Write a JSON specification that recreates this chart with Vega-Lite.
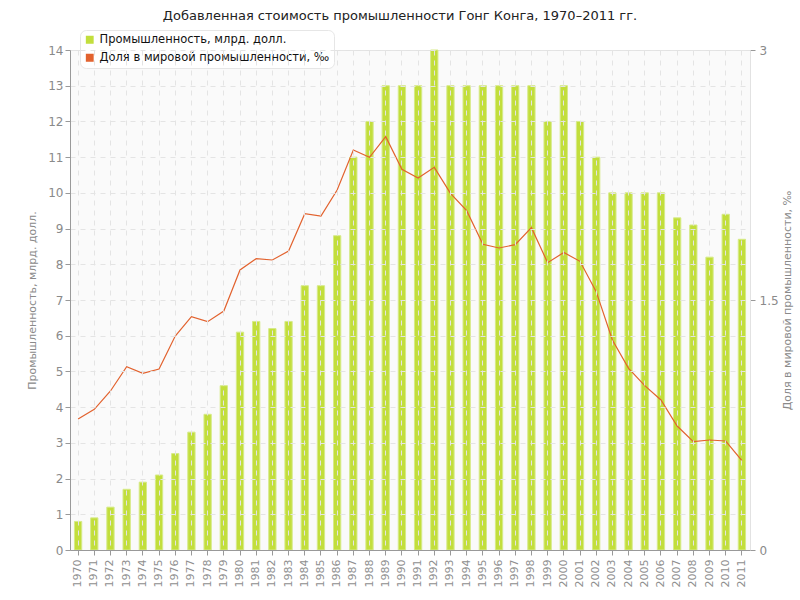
{
  "$schema": "https://vega.github.io/schema/vega-lite/v6.json",
  "autosize": "none",
  "width": 680,
  "height": 500,
  "padding": {"left": 70, "top": 50, "right": 50, "bottom": 50},
  "background": "white",
  "config": {
    "font": "DejaVu Sans",
    "view": {"fill": "#fafafa", "stroke": "#e2e2e2"}
  },
  "title": {
    "text": "Добавленная стоимость промышленности Гонг Конга, 1970–2011 гг.",
    "fontSize": 13,
    "fontWeight": "normal",
    "color": "#222",
    "anchor": "middle",
    "dx": -10,
    "offset": 7,
    "font": "DejaVu Sans"
  },
  "data": {
    "values": [
      {"year": "1970", "ind": 0.8, "share": 0.786},
      {"year": "1971", "ind": 0.9, "share": 0.844},
      {"year": "1972", "ind": 1.2, "share": 0.954},
      {"year": "1973", "ind": 1.7, "share": 1.1},
      {"year": "1974", "ind": 1.9, "share": 1.06},
      {"year": "1975", "ind": 2.1, "share": 1.086},
      {"year": "1976", "ind": 2.7, "share": 1.284},
      {"year": "1977", "ind": 3.3, "share": 1.4},
      {"year": "1978", "ind": 3.8, "share": 1.37},
      {"year": "1979", "ind": 4.6, "share": 1.434},
      {"year": "1980", "ind": 6.1, "share": 1.68},
      {"year": "1981", "ind": 6.4, "share": 1.748},
      {"year": "1982", "ind": 6.2, "share": 1.74},
      {"year": "1983", "ind": 6.4, "share": 1.794},
      {"year": "1984", "ind": 7.4, "share": 2.018},
      {"year": "1985", "ind": 7.4, "share": 2.004},
      {"year": "1986", "ind": 8.8, "share": 2.16},
      {"year": "1987", "ind": 11, "share": 2.4},
      {"year": "1988", "ind": 12, "share": 2.356},
      {"year": "1989", "ind": 13, "share": 2.48},
      {"year": "1990", "ind": 13, "share": 2.284},
      {"year": "1991", "ind": 13, "share": 2.232},
      {"year": "1992", "ind": 14, "share": 2.296},
      {"year": "1993", "ind": 13, "share": 2.14},
      {"year": "1994", "ind": 13, "share": 2.036},
      {"year": "1995", "ind": 13, "share": 1.834},
      {"year": "1996", "ind": 13, "share": 1.812},
      {"year": "1997", "ind": 13, "share": 1.832},
      {"year": "1998", "ind": 13, "share": 1.934},
      {"year": "1999", "ind": 12, "share": 1.724},
      {"year": "2000", "ind": 13, "share": 1.785},
      {"year": "2001", "ind": 12, "share": 1.732},
      {"year": "2002", "ind": 11, "share": 1.55},
      {"year": "2003", "ind": 10, "share": 1.26},
      {"year": "2004", "ind": 10, "share": 1.09},
      {"year": "2005", "ind": 10, "share": 0.986},
      {"year": "2006", "ind": 10, "share": 0.9},
      {"year": "2007", "ind": 9.3, "share": 0.744},
      {"year": "2008", "ind": 9.1, "share": 0.65},
      {"year": "2009", "ind": 8.2, "share": 0.66},
      {"year": "2010", "ind": 9.4, "share": 0.654},
      {"year": "2011", "ind": 8.7, "share": 0.536}
    ]
  },
  "encoding": {
    "x": {
      "field": "year",
      "type": "ordinal",
      "scale": {"paddingInner": 0.55, "paddingOuter": 0.275},
      "axis": {
        "title": null,
        "labelAngle": -90,
        "labelAlign": "right",
        "labelBaseline": "middle",
        "labelColor": "#8f8f8f",
        "labelFontSize": 11,
        "labelPadding": 4,
        "domainColor": "#999",
        "tickColor": "#999",
        "tickSize": 5,
        "grid": true,
        "gridColor": "#e4e4e4",
        "gridDash": [5, 5],
        "gridWidth": 1,
        "zindex": 1
      }
    }
  },
  "layer": [
    {
      "mark": {"type": "bar", "stroke": "#d6ea88", "strokeWidth": 1},
      "encoding": {
        "y": {
          "field": "ind",
          "type": "quantitative",
          "scale": {"domain": [0, 14], "nice": false},
          "axis": {
            "title": "Промышленность, млрд. долл.",
            "titleColor": "#8a8a8a",
            "titleFontSize": 11,
            "titleFontWeight": "normal",
            "titlePadding": 10,
            "values": [0,1,2,3,4,5,6,7,8,9,10,11,12,13,14],
            "labelColor": "#8a8a8a",
            "labelFontSize": 12,
            "domainColor": "#999",
            "tickColor": "#999",
            "tickSize": 5,
            "grid": true,
            "gridColor": "#e4e4e4",
            "gridDash": [5, 5],
            "zindex": 1
          }
        },
        "color": {
          "datum": "Промышленность, млрд. долл.",
          "type": "nominal",
          "scale": {
            "domain": ["Промышленность, млрд. долл.", "Доля в мировой промышленности, ‰"],
            "range": ["#c2de3c", "#e2622e"]
          },
          "legend": {
            "title": null,
            "orient": "none",
            "legendX": 10,
            "legendY": -20,
            "symbolType": "square",
            "symbolSize": 40,
            "labelFontSize": 11.5,
            "labelColor": "#111",
            "fillColor": "white",
            "strokeColor": "#e6e6e6",
            "cornerRadius": 6,
            "padding": 4,
            "rowPadding": 5,
            "labelLimit": 400
          }
        }
      }
    },
    {
      "mark": {"type": "line", "strokeWidth": 1.2, "color": "#e8764a"},
      "encoding": {
        "y": {
          "field": "share",
          "type": "quantitative",
          "scale": {"domain": [0, 3], "nice": false},
          "axis": {
            "orient": "right",
            "title": "Доля в мировой промышленности, ‰",
            "titleAngle": -90,
            "titleBaseline": "bottom",
            "titleColor": "#8a8a8a",
            "titleFontSize": 11,
            "titleFontWeight": "normal",
            "titlePadding": 14,
            "values": [0, 1.5, 3],
            "format": ".1~f",
            "labelColor": "#8a8a8a",
            "labelFontSize": 12,
            "domainColor": "#e2e2e2",
            "tickColor": "#999",
            "tickSize": 5,
            "labelPadding": 4,
            "grid": false
          }
        },
        "color": {"datum": "Доля в мировой промышленности, ‰", "type": "nominal"}
      }
    }
  ],
  "resolve": {"scale": {"y": "independent"}}
}
